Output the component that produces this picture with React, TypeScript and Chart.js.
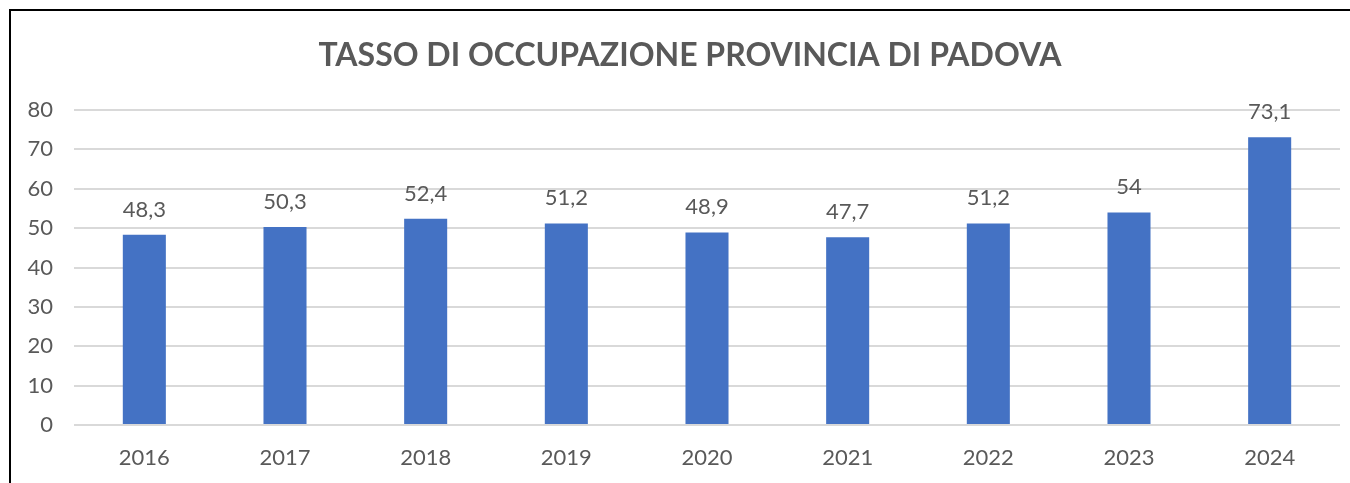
import React, { useEffect, useRef } from "react";
import { Chart, registerables } from "chart.js";

Chart.register(...registerables);

const categories = ["2016", "2017", "2018", "2019", "2020", "2021", "2022", "2023", "2024"];
const values = [48.3, 50.3, 52.4, 51.2, 48.9, 47.7, 51.2, 54, 73.1];
const yMin = 0;
const yMax = 80;
const yStep = 10;
const titleText = "TASSO DI OCCUPAZIONE PROVINCIA DI PADOVA";

const FONT = "Lato, 'Open Sans', sans-serif";
const TEXT = "#595959";

const valueLabels = {
  id: "valueLabels",
  afterDatasetsDraw(chart: any) {
    const ctx = chart.ctx;
    const meta = chart.getDatasetMeta(0);
    ctx.save();
    ctx.font = `22px ${FONT}`;
    ctx.fillStyle = TEXT;
    ctx.textAlign = "center";
    ctx.textBaseline = "alphabetic";
    meta.data.forEach((bar: any, i: number) => {
      ctx.fillText(String(values[i]).replace(".", ","), bar.x, bar.y - 18);
    });
    ctx.restore();
  },
};

const titleDraw = {
  id: "titleDraw",
  afterDraw(chart: any) {
    const ctx = chart.ctx;
    ctx.save();
    ctx.font = `bold 32px ${FONT}`;
    ctx.fillStyle = TEXT;
    ctx.textAlign = "center";
    ctx.textBaseline = "alphabetic";
    ctx.fillText(titleText, 690, 66);
    ctx.restore();
  },
};

export default function App() {
  const ref = useRef<HTMLCanvasElement | null>(null);
  useEffect(() => {
    if (!ref.current) return;
    const chart = new Chart(ref.current, {
      type: "bar",
      data: {
        labels: categories,
        datasets: [
          {
            data: values,
            backgroundColor: "#4472C4",
            borderWidth: 0,
            barPercentage: 0.306,
            categoryPercentage: 1,
          },
        ],
      },
      options: {
        animation: false,
        responsive: false,
        maintainAspectRatio: false,
        layout: { padding: { left: 0, right: 10, top: 110, bottom: 13 } },
        plugins: {
          legend: { display: false },
          tooltip: { enabled: false },
          title: { display: false },
        },
        scales: {
          x: {
            afterFit: (s: any) => {
              s.height = 45;
            },
            grid: { display: false, drawTicks: false },
            border: { display: false },
            ticks: { color: TEXT, font: { family: FONT, size: 22 }, padding: 20 },
          },
          y: {
            min: yMin,
            max: yMax,
            afterFit: (s: any) => {
              s.width = 74;
            },
            grid: { color: "#d9d9d9", lineWidth: 2, drawTicks: false },
            border: { display: false },
            ticks: {
              stepSize: yStep,
              color: TEXT,
              font: { family: FONT, size: 22 },
              padding: 21,
            },
          },
        },
      },
      plugins: [valueLabels, titleDraw],
    });
    return () => chart.destroy();
  }, []);

  return (
    <div style={{ position: "fixed", left: 0, top: 0, width: 1350, height: 483, background: "#fff", overflow: "hidden" }}>
      <canvas ref={ref} width={1350} height={483} style={{ position: "absolute", left: 0, top: 0 }} />
      <div
        style={{
          position: "absolute",
          left: 9,
          top: 9,
          width: 1400,
          height: 600,
          borderLeft: "2px solid #000",
          borderTop: "2px solid #000",
          pointerEvents: "none",
        }}
      />
    </div>
  );
}
